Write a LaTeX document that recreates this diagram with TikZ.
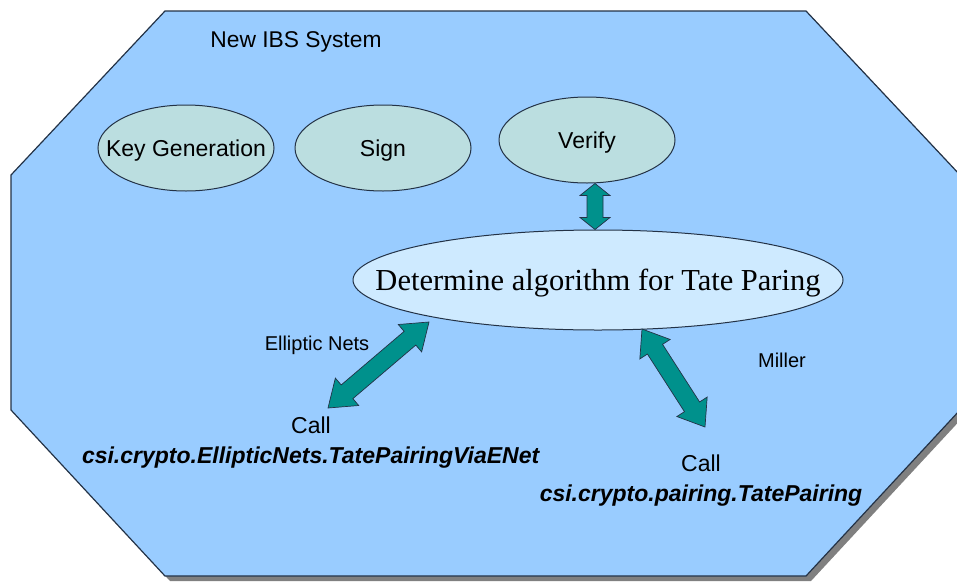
\documentclass[tikz,border=0pt]{standalone}
\usepackage{fontspec}
\setmainfont{Liberation Sans}
\newfontfamily\serifx{Liberation Serif}
\usetikzlibrary{shapes.geometric,calc}
\definecolor{octfill}{RGB}{153,204,255}
\definecolor{edgecol}{RGB}{35,50,70}
\definecolor{ovalfill}{RGB}{187,222,224}
\definecolor{detfill}{RGB}{206,234,255}
\definecolor{tealarrow}{RGB}{0,145,140}
\definecolor{shadowgray}{RGB}{128,128,128}
\newcommand{\blockarrow}[5]{%
  \coordinate (#1h) at ($(#1)!#5!(#2)$);
  \coordinate (#2h) at ($(#2)!#5!(#1)$);
  \filldraw[blockarrowstyle] (#1)
    -- ($(#1h)!#4!90:(#2)$) -- ($(#1h)!#3!90:(#2)$)
    -- ($(#2h)!#3!-90:(#1)$) -- ($(#2h)!#4!-90:(#1)$)
    -- (#2)
    -- ($(#2h)!#4!90:(#1)$) -- ($(#2h)!#3!90:(#1)$)
    -- ($(#1h)!#3!-90:(#2)$) -- ($(#1h)!#4!-90:(#2)$)
    -- cycle;
}
\begin{document}
\begin{tikzpicture}[x=1pt,y=-1pt,
  octstyle/.style={fill=octfill,draw=edgecol,line width=1.2pt,line join=miter},
  oval/.style={ellipse,draw=edgecol,line width=1pt,fill=ovalfill,inner sep=0pt,
    text height=16.5pt,text depth=0pt,
    minimum width=176pt,minimum height=86pt,font=\fontsize{23}{28}\selectfont},
  detoval/.style={ellipse,draw=edgecol,line width=1pt,fill=detfill,inner sep=0pt,
    text height=20pt,text depth=0pt,
    minimum width=490pt,minimum height=100pt,font=\serifx\fontsize{30.5}{36}\selectfont},
  plain/.style={inner sep=0pt,text height=14.5pt,text depth=0pt,font=\fontsize{20}{24}\selectfont},
  calltext/.style={inner sep=0pt,align=center,font=\fontsize{23}{30}\selectfont},
  blockarrowstyle/.style={fill=tealarrow,draw=edgecol,line width=0.7pt,line join=miter}]
\useasboundingbox (0,0) rectangle (957,581);
\begin{scope}
\clip (0,0) rectangle (957,581);
\begin{scope}[shift={(5,5)}]
\fill[shadowgray] (165,11) -- (806,11) -- (960,175) -- (960,410) -- (806,576) -- (165,576) -- (11,410) -- (11,175) -- cycle;
\end{scope}
\path[octstyle] (165,11) -- (806,11) -- (960,175) -- (960,410) -- (806,576) -- (165,576) -- (11,410) -- (11,175) -- cycle;
\end{scope}

\node[inner sep=0pt,text height=16.5pt,text depth=0pt,font=\fontsize{22.8}{27}\selectfont] (title) at (296,39) {New IBS System};

\node[oval] (keygen) at (186,148) {\makebox[0pt][c]{Key Generation}};
\node[oval] (sign) at (383,148) {\makebox[0pt][c]{Sign}};
\node[oval] (verify) at (587,140) {\makebox[0pt][c]{Verify}};
\node[detoval] (det) at (598,280) {\makebox[0pt][c]{Determine algorithm for Tate Paring}};

\node[plain] (en) at (317,343) {Elliptic Nets};
\node[plain] (miller) at (782,360) {Miller};

\node[calltext] (callA) at (311,443) {Call\\\textbf{\textit{csi.crypto.EllipticNets.TatePairingViaENet}}};
\node[calltext] (callB) at (701,481) {Call\\\textbf{\textit{csi.crypto.pairing.TatePairing}}};

\coordinate (v1) at ($(verify.south)+(8,0)$);
\coordinate (v2) at ($(det.north)+(-3,0)$);
\coordinate (e1) at (429,322);
\coordinate (e2) at (328,408);
\coordinate (m1) at (642,329);
\coordinate (m2) at (705,427);

\blockarrow{v1}{v2}{8pt}{15pt}{12pt}
\blockarrow{e1}{e2}{9pt}{18pt}{25pt}
\blockarrow{m1}{m2}{9pt}{18pt}{24pt}
\end{tikzpicture}
\end{document}
